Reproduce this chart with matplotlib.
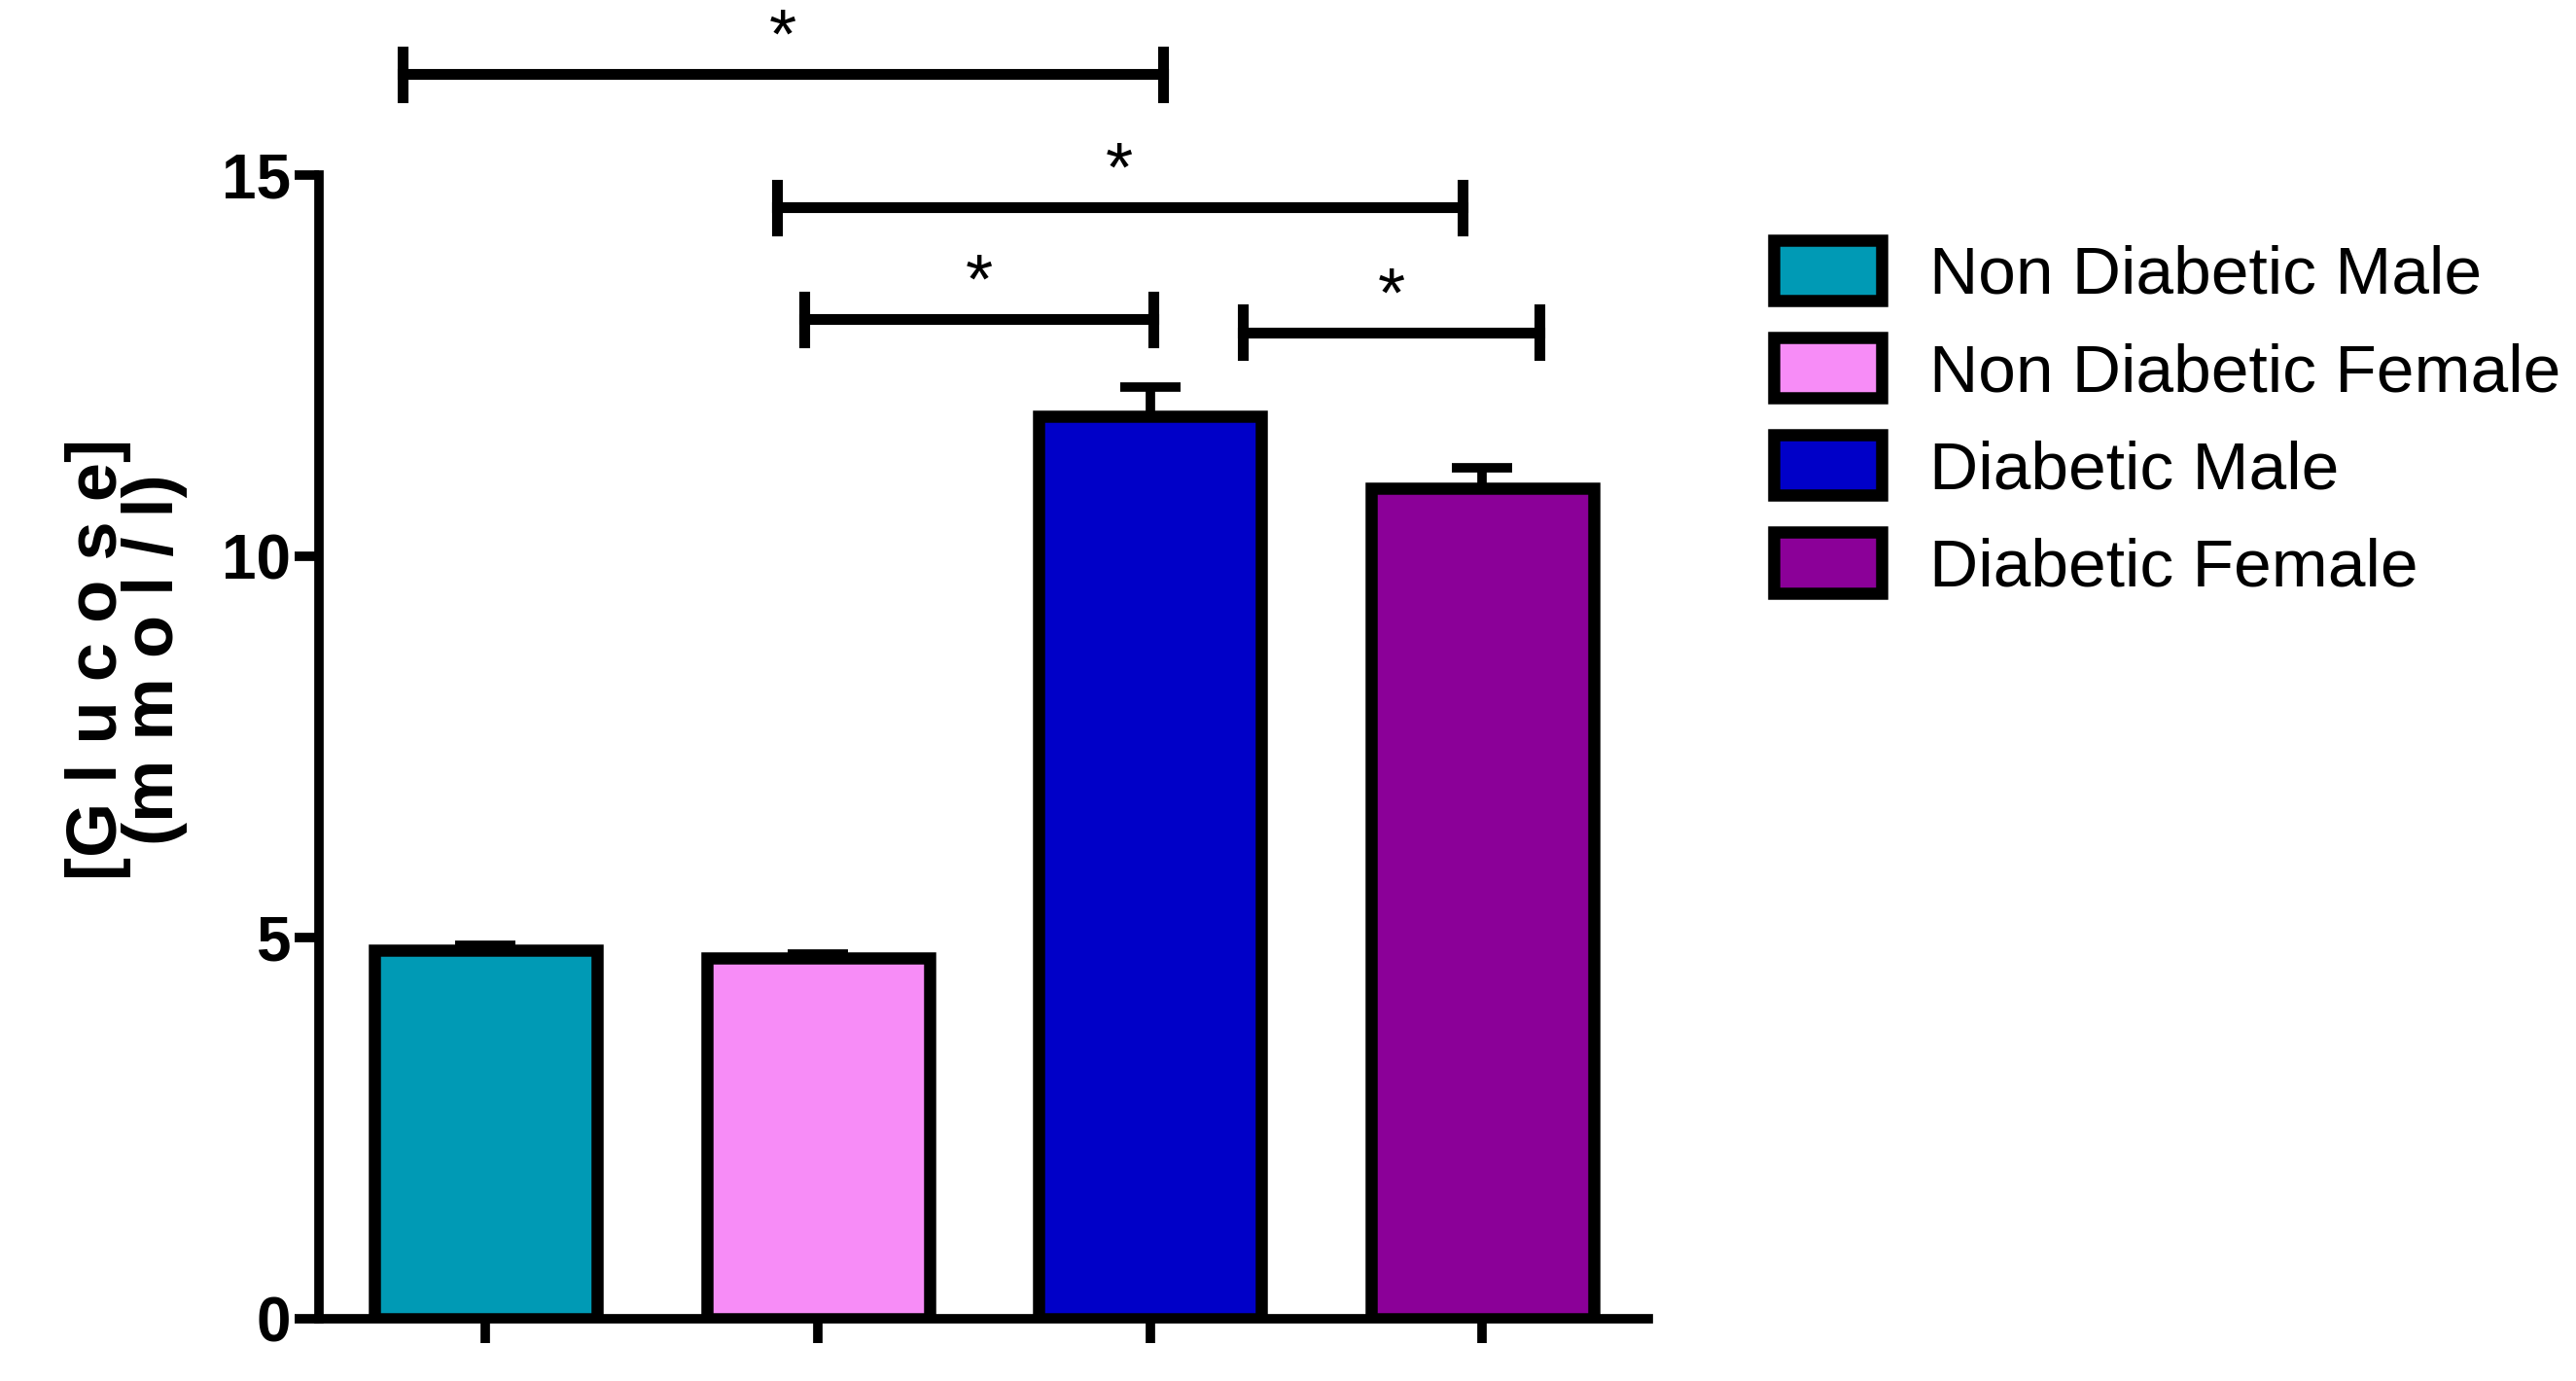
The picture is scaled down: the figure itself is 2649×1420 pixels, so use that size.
import matplotlib.pyplot as plt
from matplotlib.patches import Patch

plt.rcParams['font.family'] = ['Liberation Sans', 'DejaVu Sans']

groups = ["Non Diabetic Male", "Non Diabetic Female", "Diabetic Male", "Diabetic Female"]
means = [4.84, 4.73, 11.84, 10.89]
errors = [0.06, 0.05, 0.38, 0.28]
colors = ["#009ab5", "#f78cf7", "#0000c8", "#8b0098"]
# significance brackets: (x start, x end, height)
brackets = [(-0.25, 2.04, 16.33), (0.876, 2.94, 14.58), (0.96, 2.01, 13.11), (2.28, 3.17, 12.94)]

fig = plt.figure(figsize=(26.49, 14.2), dpi=100)
ax = fig.add_axes([0.124, 0.045, 0.516, 0.955])

x = range(len(groups))
ax.bar(x, means, width=0.67, color=colors, edgecolor='black', linewidth=9, zorder=3)
ax.errorbar(x, means, yerr=[[0] * 4, errors], fmt='none', ecolor='black',
            elinewidth=7, capsize=22, capthick=7, zorder=2)

for x0, x1, h in brackets:
    ax.plot([x0, x1], [h, h], color='black', lw=8, clip_on=False)
    ax.plot([x0, x0], [h - 0.3, h + 0.3], color='black', lw=8, clip_on=False)
    ax.plot([x1, x1], [h - 0.3, h + 0.3], color='black', lw=8, clip_on=False)
    ax.text((x0 + x1) / 2, h + 0.02, "*", ha='center', va='bottom', fontsize=52)

ax.set_xlim(-0.5, 3.5)
ax.set_ylim(0, 17.3)
ax.set_yticks([0, 5, 10, 15])
ax.set_xticks(list(x))
ax.set_xticklabels([])
for s in ['top', 'right']:
    ax.spines[s].set_visible(False)
ax.spines['left'].set_bounds(0, 15)
ax.spines['left'].set_linewidth(7)
ax.spines['bottom'].set_linewidth(7)
ax.tick_params(width=7, length=18, labelsize=46)
for t in ax.get_yticklabels():
    t.set_fontweight('bold')
ax.set_ylabel("[G l u c o s e]\n(m m o l / l)", fontsize=52, fontweight='bold', labelpad=25, linespacing=0.8)

handles = [Patch(facecolor=c, edgecolor='black', linewidth=9) for c in colors]
fig.legend(handles, groups, loc='upper left', bbox_to_anchor=(0.665, 0.87), frameon=False,
           fontsize=50, handlelength=1.6, handleheight=1.0, labelspacing=0.45, handletextpad=0.7)

fig.savefig("out.png")
